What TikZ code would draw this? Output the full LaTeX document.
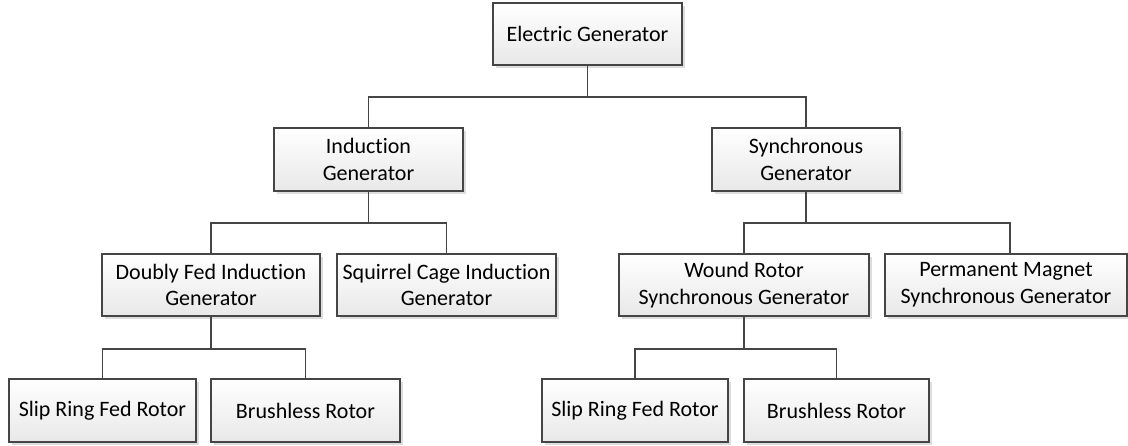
\documentclass[tikz,border=0pt]{standalone}
\usepackage{fontspec}
\setmainfont[Ligatures=NoCommon]{Carlito}
\usetikzlibrary{shadows}
\definecolor{edge}{HTML}{454545}
\definecolor{boxbot}{HTML}{E8E8E8}
\tikzset{
  box/.style={draw=edge, line width=1.2pt, rectangle, align=center,
    top color=white, bottom color=boxbot, inner sep=0pt,
    drop shadow={shadow xshift=3pt, shadow yshift=-3pt, fill=black!22, opacity=0.6},
    font=\fontsize{22}{26.8}\selectfont},
  link/.style={draw=edge, line width=1.2pt}
}
\begin{document}
\begin{tikzpicture}[x=1pt,y=-1pt]
\useasboundingbox (0,0) rectangle (1128,445);
\node[box, minimum width=189pt, minimum height=62pt] (root) at (587.5,34) {Electric Generator};
\node[box, minimum width=189pt, minimum height=63pt] (ig) at (368.5,159.5) {Induction\\Generator};
\node[box, minimum width=188pt, minimum height=63pt] (sg) at (806,159.5) {Synchronous\\Generator};
\node[box, minimum width=218pt, minimum height=62pt] (dfig) at (211,285) {Doubly Fed Induction\\Generator};
\node[box, minimum width=219pt, minimum height=62pt] (scig) at (446.5,285) {Squirrel Cage Induction\\Generator};
\node[box, minimum width=250pt, minimum height=62pt] (wr) at (744,285) {Wound Rotor\\Synchronous Generator};
\node[box, minimum width=242pt, minimum height=62pt] (pm) at (1006,285) {Permanent Magnet\\Synchronous Generator};
\node[box, minimum width=187pt, minimum height=63pt] (sr1) at (102.5,410.5) {Slip Ring Fed Rotor};
\node[box, minimum width=189pt, minimum height=63pt] (br1) at (305.5,410.5) {Brushless Rotor};
\node[box, minimum width=186pt, minimum height=63pt] (sr2) at (635,410.5) {Slip Ring Fed Rotor};
\node[box, minimum width=185pt, minimum height=63pt] (br2) at (836.5,410.5) {Brushless Rotor};
% level 1
\draw[link] (root.south) -- (root.south |- 0,97);
\draw[link] (ig.north) -- (ig.north |- 0,97) -- (sg.north |- 0,97) -- (sg.north);
% induction branch
\draw[link] (ig.south) -- (ig.south |- 0,223);
\draw[link] (dfig.north) -- (dfig.north |- 0,223) -- (scig.north |- 0,223) -- (scig.north);
% synchronous branch
\draw[link] (sg.south) -- (sg.south |- 0,223);
\draw[link] (wr.north) -- (wr.north |- 0,223) -- ([xshift=4pt]pm.north |- 0,223) -- ([xshift=4pt]pm.north);
% DFIG branch
\draw[link] (dfig.south) -- (dfig.south |- 0,349);
\draw[link] (sr1.north) -- (sr1.north |- 0,349) -- (br1.north |- 0,349) -- (br1.north);
% WR branch
\draw[link] (wr.south) -- (wr.south |- 0,349);
\draw[link] (sr2.north) -- (sr2.north |- 0,349) -- (br2.north |- 0,349) -- (br2.north);
\end{tikzpicture}
\end{document}
